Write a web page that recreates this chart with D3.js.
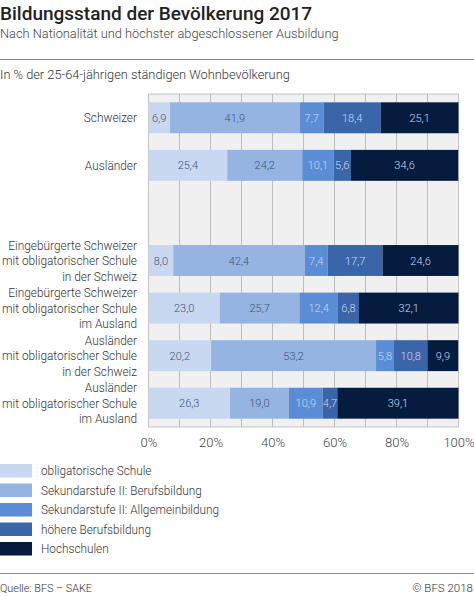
<!DOCTYPE html>
<html><head><meta charset="utf-8">
<script src="https://cdn.jsdelivr.net/npm/d3@7"></script>
<style>
body{margin:0;background:#fff;}
svg text{font-family:Roboto,"Noto Sans",sans-serif;}
</style></head>
<body><svg id="c" width="474" height="596"></svg>
<script>
const categories = [
  ["Schweizer"],
  ["Ausländer"],
  [],
  ["Eingebürgerte Schweizer","mit obligatorischer Schule","in der Schweiz"],
  ["Eingebürgerte Schweizer","mit obligatorischer Schule","im Ausland"],
  ["Ausländer","mit obligatorischer Schule","in der Schweiz"],
  ["Ausländer","mit obligatorischer Schule","im Ausland"]
];
const seriesNames = ["obligatorische Schule","Sekundarstufe II: Berufsbildung","Sekundarstufe II: Allgemeinbildung","höhere Berufsbildung","Hochschulen"];
const obligatorisch   = [6.9, 25.4, null, 8.0, 23.0, 20.2, 26.3];
const berufsbildung   = [41.9, 24.2, null, 42.4, 25.7, 53.2, 19.0];
const allgemeinbildung= [7.7, 10.1, null, 7.4, 12.4, 5.8, 10.9];
const hoehereBB       = [18.4, 5.6, null, 17.7, 6.8, 10.8, 4.7];
const hochschulen     = [25.1, 34.6, null, 24.6, 32.1, 9.9, 39.1];
const xTicks = [0,20,40,60,80,100];
const colors = ["#c8d8f1","#95b4e2","#5b8cd6","#3b65a9","#061c3e"];
const textColors = ["#3e5478","#3e5478","#c8d8f1","#c8d8f1","#c8d8f1"];

const series = [obligatorisch, berufsbildung, allgemeinbildung, hoehereBB, hochschulen];
const svg = d3.select("#c");

// compress a group of texts horizontally so the widest spans targetW
function compress(nodes, targetW){
  const ws = nodes.map(n=>n.getComputedTextLength());
  const k = Math.min(1, targetW/d3.max(ws));
  if (k<1) nodes.forEach((n,i)=>{ n.setAttribute("textLength", ws[i]*k); n.setAttribute("lengthAdjust","spacingAndGlyphs"); });
}

// Header
svg.append("text").attr("x",0).attr("y",20).attr("font-size",19).attr("font-weight",500).attr("fill","#222")
  .text("Bildungsstand der Bevölkerung 2017");
svg.append("text").attr("x",0).attr("y",38).attr("font-size",12.8).attr("font-weight",300).attr("fill","#444")
  .text("Nach Nationalität und höchster abgeschlossener Ausbildung");
svg.append("line").attr("x1",0).attr("x2",474).attr("y1",59.5).attr("y2",59.5).attr("stroke","#888").attr("stroke-width",1);
svg.append("text").attr("x",0).attr("y",79).attr("font-size",12.8).attr("font-weight",300).attr("fill","#333")
  .text("In % der 25-64-jährigen ständigen Wohnbevölkerung");

const x = d3.scaleLinear().domain([0,100]).range([148.5,458.5]);
const idx = d3.range(categories.length);
const y = d3.scaleBand().domain(idx).range([94,427]).paddingInner(0.35).paddingOuter(0.175);

// plot background
svg.append("rect").attr("x",x(0)).attr("y",94).attr("width",x(100)-x(0)).attr("height",427-94)
  .attr("fill","#f0f0f0").attr("stroke","#c4c4c4");
svg.append("g").selectAll("line").data(d3.range(10,100,10)).join("line")
  .attr("x1",d=>x(d)).attr("x2",d=>x(d)).attr("y1",94).attr("y2",427).attr("stroke","#bdbdbd");

// bars
idx.forEach(i=>{
  let acc=0;
  series.forEach((s,k)=>{
    const v=s[i]; if(v==null) return;
    const x0=acc; acc+=v;
    svg.append("rect").attr("x",x(x0)).attr("y",y(i)).attr("width",x(Math.min(acc,100))-x(x0)).attr("height",y.bandwidth())
      .attr("fill",colors[k]);
    svg.append("text").attr("x",(x(x0)+x(Math.min(acc,100)))/2).attr("y",y(i)+y.bandwidth()/2+4)
      .attr("text-anchor","middle").attr("font-size",11).attr("font-weight",300).attr("fill",textColors[k])
      .text(d3.format(".1f")(v).replace(".",","));
  });
});

// y labels
const labelG = svg.append("g");
idx.forEach(i=>{
  const lines=categories[i]; const n=lines.length; if(!n) return;
  const cy=y(i)+y.bandwidth()/2;
  lines.forEach((l,j)=>{
    labelG.append("text").attr("text-anchor","end").attr("font-size",13).attr("font-weight",300).attr("fill","#333")
      .attr("x",137).attr("y",cy+4.5+(j-(n-1)/2)*15.5).text(l);
  });
});
compress(labelG.selectAll("text").nodes(), 135);

// x axis
const xa = svg.append("g").attr("transform","translate(0,427)").call(d3.axisBottom(x).tickValues(xTicks).tickFormat(d=>d+"%").tickSize(0).tickPadding(11));
xa.select(".domain").remove();
xa.selectAll("text").attr("font-size",13).attr("font-weight",300).attr("fill","#444").attr("font-family","Roboto,sans-serif");

// legend
const lg = svg.append("g");
seriesNames.forEach((n,k)=>{
  const yy=464+k*19.5;
  lg.append("rect").attr("x",0).attr("y",yy).attr("width",32).attr("height",13.5).attr("fill",colors[k]);
  lg.append("text").attr("x",41).attr("y",yy+11).attr("font-size",12.8).attr("font-weight",300).attr("fill","#333").text(n);
});
compress(lg.selectAll("text").nodes(), 178);

// footer
svg.append("line").attr("x1",0).attr("x2",474).attr("y1",573.5).attr("y2",573.5).attr("stroke","#888");
const q = svg.append("text").attr("x",0).attr("y",592).attr("font-size",11.5).attr("font-weight",300).attr("fill","#333").text("Quelle: BFS – SAKE");
compress([q.node()], 92);
svg.append("text").attr("x",473).attr("y",592).attr("text-anchor","end").attr("font-size",11.5).attr("font-weight",300).attr("fill","#333").text("© BFS 2018");
</script></body></html>
